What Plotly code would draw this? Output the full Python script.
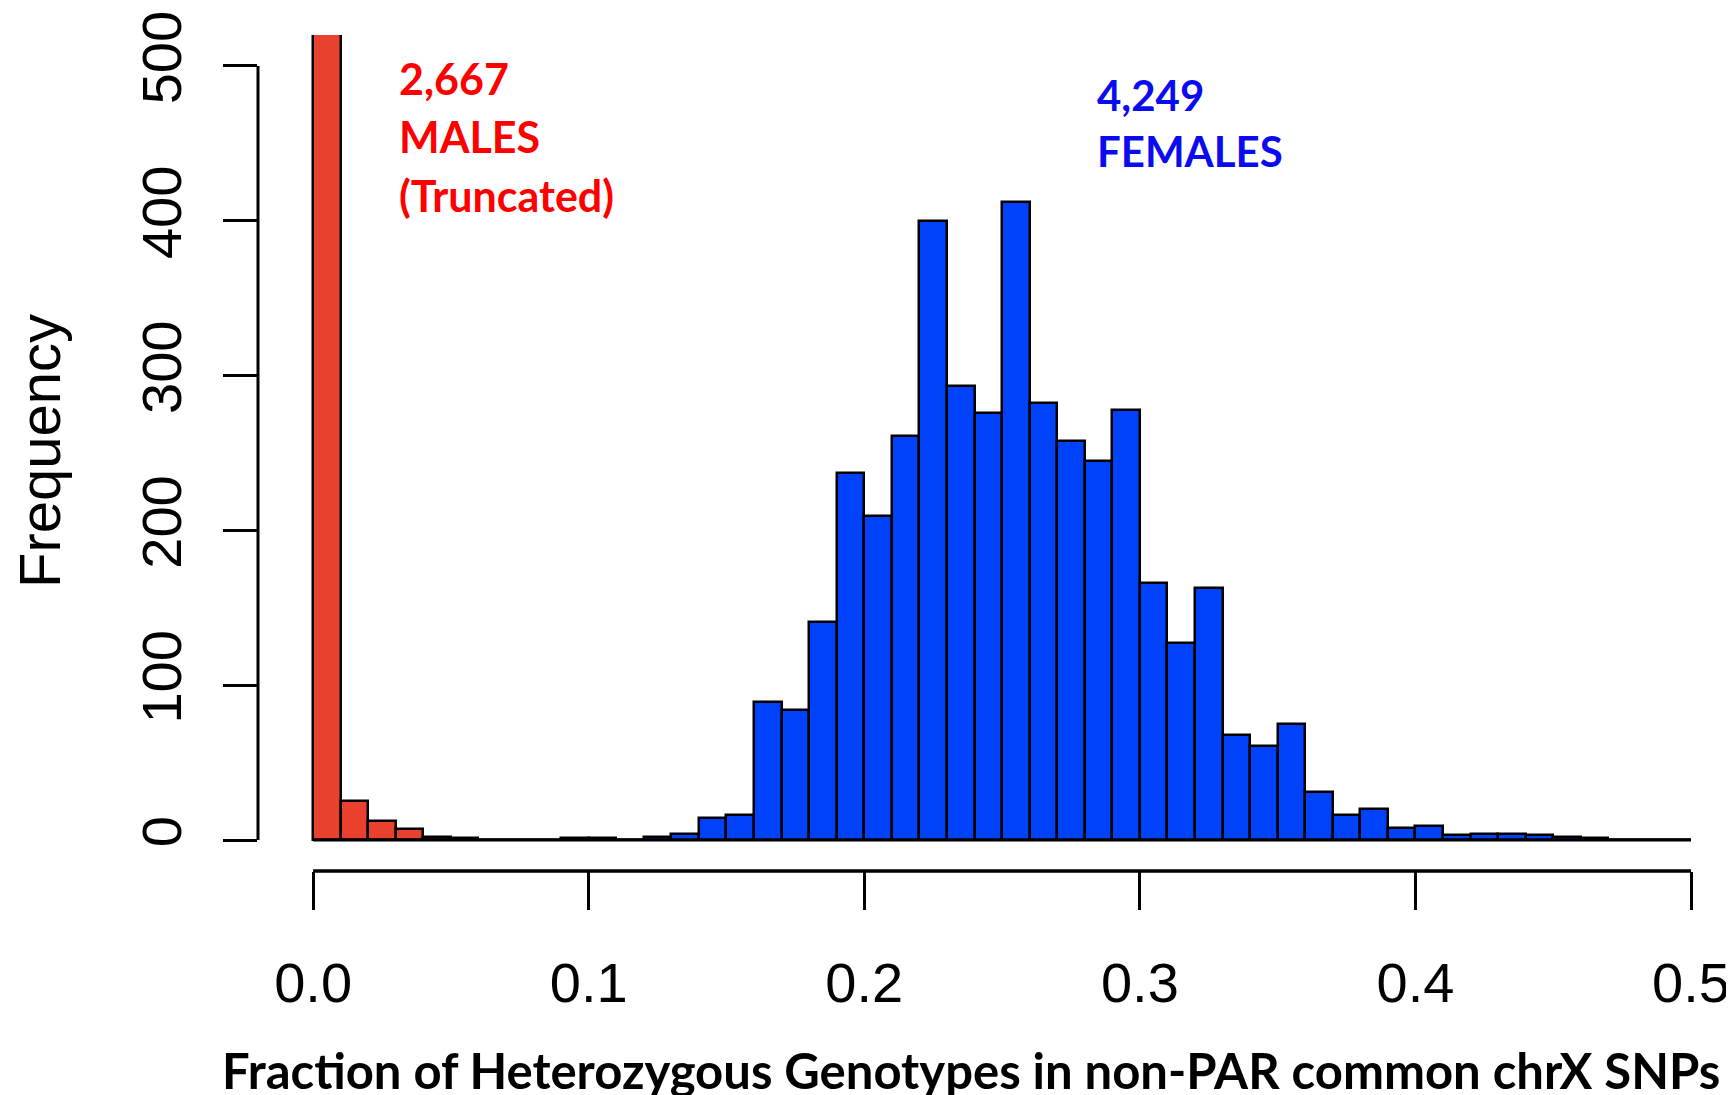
import plotly.graph_objects as go

# ---------------- data ----------------
BIN_WIDTH = 0.01
BIN_STARTS = [round(i * BIN_WIDTH, 2) for i in range(50)]

# males (red) - first bin truncated in the original; total 2,667
MALE_COUNTS = [2620, 25, 12, 7, 2, 1, 0, 0, 0, 0,
               0, 0, 0, 0, 0, 0, 0, 0, 0, 0,
               0, 0, 0, 0, 0, 0, 0, 0, 0, 0,
               0, 0, 0, 0, 0, 0, 0, 0, 0, 0,
               0, 0, 0, 0, 0, 0, 0, 0, 0, 0]

# females (blue) - total 4,249
FEMALE_COUNTS = [0, 0, 0, 0, 0, 0, 0, 0, 0, 1,
                 1, 0, 2, 4, 14, 16, 89, 84, 141, 237,
                 209, 261, 400, 293, 276, 412, 282, 258, 245, 278,
                 166, 127, 163, 68, 61, 75, 31, 16, 20, 8,
                 9, 3, 4, 4, 3, 2, 1, 0, 0, 0]

X_TICKS = [0.0, 0.1, 0.2, 0.3, 0.4, 0.5]
X_TICK_TEXT = ["0.0", "0.1", "0.2", "0.3", "0.4", "0.5"]
Y_TICKS = [0, 100, 200, 300, 400, 500]
Y_TICK_TEXT = ["0", "100", "200", "300", "400", "500"]

X_TITLE = "Fraction of Heterozygous Genotypes in non-PAR common chrX SNPs"
Y_TITLE = "Frequency"
MALE_LABEL = ["2,667", "MALES", "(Truncated)"]
FEMALE_LABEL = ["4,249", "FEMALES"]

# ---------------- styling ----------------
RED_FILL = "#E9412D"
BLUE_FILL = "#0042FA"
RED_TEXT = "#FF0000"
BLUE_TEXT = "#0B0BF2"
AXIS_FONT = "Liberation Sans, Arial, sans-serif"
LABEL_FONT = "Lato, Open Sans, sans-serif"

# page body has an 8px margin: figure sized to fill the rest of the window
PAGE_OFF = 8
W, H = 1734 - PAGE_OFF, 1095 - PAGE_OFF
ML, MR, MT, MB = 250, 0, 27, 224
X_RANGE = [-0.02, 0.5156]
Y_RANGE = [-20, 520]

centers = [s + BIN_WIDTH / 2 for s in BIN_STARTS]

fig = go.Figure()
fig.add_trace(go.Bar(
    x=centers, y=MALE_COUNTS, width=BIN_WIDTH,
    marker=dict(color=RED_FILL, line=dict(color="black", width=2.5)),
    showlegend=False, hoverinfo="x+y",
))
fig.add_trace(go.Bar(
    x=centers, y=FEMALE_COUNTS, width=BIN_WIDTH,
    marker=dict(color=BLUE_FILL, line=dict(color="black", width=2.5)),
    showlegend=False, hoverinfo="x+y",
))

shapes = [
    # x axis line (R style: spans first..last tick)
    dict(type="line", xref="x", yref="paper", x0=X_TICKS[0], x1=X_TICKS[-1],
         y0=0, y1=0, line=dict(color="black", width=3.5)),
    # y axis line
    dict(type="line", xref="paper", yref="y", x0=0, x1=0,
         y0=Y_TICKS[0], y1=Y_TICKS[-1], line=dict(color="black", width=3)),
    # histogram baseline (zero-height bins)
    dict(type="line", xref="x", yref="y", x0=BIN_STARTS[0],
         x1=BIN_STARTS[-1] + BIN_WIDTH, y0=0, y1=0,
         line=dict(color="black", width=3), layer="above"),
]

plot_w = W - ML - MR
plot_h = H - MT - MB


def px_to_paper_x(sx):
    return (sx - PAGE_OFF - ML) / plot_w


def px_to_paper_y(sy):
    return (H - MB - (sy - PAGE_OFF)) / plot_h


annotations = []
# axis titles
annotations.append(dict(
    text=Y_TITLE, xref="paper", yref="paper",
    x=px_to_paper_x(39), y=px_to_paper_y(451),
    xanchor="center", yanchor="middle", textangle=-90, showarrow=False,
    font=dict(family=AXIS_FONT, size=58, color="black"),
))
annotations.append(dict(
    text="<b>" + X_TITLE + "</b>", xref="paper", yref="paper",
    x=px_to_paper_x(971), y=px_to_paper_y(1070),
    xanchor="center", yanchor="middle", showarrow=False,
    font=dict(family=LABEL_FONT, size=49, color="black"),
))
# group labels
for i, line in enumerate(MALE_LABEL):
    annotations.append(dict(
        text="<b>" + line + "</b>", xref="paper", yref="paper",
        x=px_to_paper_x(397), y=px_to_paper_y(78 + 58.5 * i),
        xanchor="left", yanchor="middle", showarrow=False,
        font=dict(family=LABEL_FONT, size=43, color=RED_TEXT),
    ))
for i, line in enumerate(FEMALE_LABEL):
    annotations.append(dict(
        text="<b>" + line + "</b>", xref="paper", yref="paper",
        x=px_to_paper_x(1095), y=px_to_paper_y(95 + 56 * i),
        xanchor="left", yanchor="middle", showarrow=False,
        font=dict(family=LABEL_FONT, size=42, color=BLUE_TEXT),
    ))

fig.update_layout(
    width=W, height=H,
    margin=dict(l=ML, r=MR, t=MT, b=MB, autoexpand=False),
    paper_bgcolor="white", plot_bgcolor="white",
    barmode="overlay", bargap=0,
    shapes=shapes, annotations=annotations,
    xaxis=dict(
        range=X_RANGE, tickmode="array", tickvals=X_TICKS, ticktext=X_TICK_TEXT,
        ticks="outside", ticklen=38, tickwidth=2.5, tickcolor="black",
        showline=False, showgrid=False, zeroline=False, automargin=False,
        tickfont=dict(family=AXIS_FONT, size=56, color="black"),
        ticklabelstandoff=25, fixedrange=True,
    ),
    yaxis=dict(
        range=Y_RANGE, tickmode="array", tickvals=Y_TICKS, ticktext=Y_TICK_TEXT,
        ticks="outside", ticklen=34, tickwidth=2.5, tickcolor="black",
        showline=False, showgrid=False, zeroline=False, automargin=False,
        tickangle=-90,
        tickfont=dict(family=AXIS_FONT, size=56, color="black"),
        ticklabelstandoff=20, fixedrange=True,
    ),
)

fig.write_html("out.html")
